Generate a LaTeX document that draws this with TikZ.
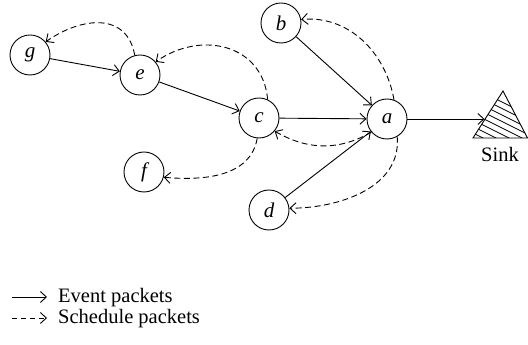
\documentclass[tikz,border=0pt]{standalone}
\usepackage{fontspec}
\setmainfont{Liberation Serif}
\usetikzlibrary{arrows.meta}
\begin{document}
\begin{tikzpicture}[x=1pt,y=1pt,
  nd/.style={circle,draw,line width=0.9pt,minimum size=40pt,inner sep=0pt,font=\fontsize{21}{24}\selectfont\itshape},
  ev/.style={line width=0.9pt,-{Straight Barb[length=6pt,width=11pt]}},
  sc/.style={ev,dash pattern=on 6pt off 3.5pt},
  lab/.style={font=\fontsize{20.5}{24}\selectfont,inner sep=0pt}]
\useasboundingbox (0,0) rectangle (528,345);
\node[nd] (g) at (30,290) {g};
\node[nd] (e) at (140,270) {e};
\node[nd] (c) at (259,227) {c};
\node[nd] (a) at (387,226) {a};
\node[nd] (b) at (281,322) {b};
\node[nd] (d) at (269,135) {d};
\node[nd] (f) at (144,173) {f};
% sink
\coordinate (s1) at (473,207);
\coordinate (s2) at (527.5,207);
\coordinate (s3) at (503,254);
\coordinate (sinkin) at (484.5,226);
\begin{scope}
\clip (s1) -- (s2) -- (s3) -- cycle;
\foreach \k in {0,...,10} {
  \draw[line width=0.8pt] (460,{264-6.5*\k}) -- ++(80,-40);
}
\end{scope}
\draw[line width=0.9pt,line join=miter] (s1) -- (s2) -- (s3) -- cycle;
\node[lab,anchor=north] (sinklab) at (500,198) {Sink};
% event packets
\draw[ev] (g) -- (e);
\draw[ev] (e) -- (c);
\draw[ev] (c) -- (a);
\draw[ev] (b) -- (a);
\draw[ev] (d) -- (a);
\draw[ev] (a) -- (sinkin);
% schedule packets
\draw[sc] (e.105) to[out=100,in=35,looseness=1.25] (g.40);
\draw[sc] (c.65) to[out=95,in=35,looseness=1.2] (e.40);
\draw[sc] (c.-95) to[out=-100,in=-5] (f.-15);
\draw[sc] (a.70) to[out=100,in=5] (b.10);
\draw[sc] (a.-140) to[out=-150,in=-30] (c.-40);
\draw[sc] (a.-60) to[out=-85,in=0] (d.5);
% legend
\coordinate (l1a) at (12,48);
\coordinate (l1b) at (47,48);
\coordinate (l2a) at (12,27);
\coordinate (l2b) at (47,27);
\draw[ev] (l1a) -- (l1b);
\draw[sc,dash pattern=on 5pt off 4pt] (l2a) -- (l2b);
\node[lab,anchor=base west] (t1) at (58,42) {Event packets};
\node[lab,anchor=base west] (t2) at (58,21) {Schedule packets};
\end{tikzpicture}
\end{document}
